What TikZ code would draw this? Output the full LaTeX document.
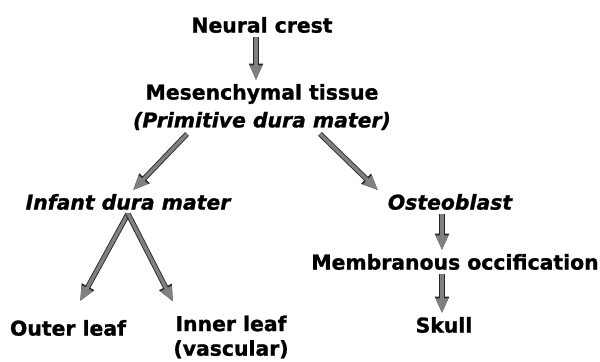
\documentclass[tikz,border=0pt]{standalone}
\usepackage{fontspec}
\setmainfont[BoldFeatures={FakeBold=1.2}, BoldItalicFeatures={FakeBold=1.2}]{DejaVu Sans}
\usetikzlibrary{arrows.meta}

\begin{document}
\begin{tikzpicture}[x=0.02cm, y=-0.02cm,
    lab/.style={font=\fontsize{11.6}{14}\selectfont\bfseries, inner sep=2pt, align=center},
    ital/.style={lab, font=\fontsize{11.6}{14}\selectfont\bfseries\itshape},
    arr/.style={-{Triangle[length=8.5pt, width=6.5pt]}, line width=2pt, black!50,
                preaction={draw=black!85, line width=3pt, -{Triangle[length=9.5pt, width=7.5pt]}}}]
    \useasboundingbox (0,0) rectangle (600,362);
    \node[lab] (crest) at (262,25) {Neural crest};
    \node[lab] (mesen) at (262,94) {Mesenchymal tissue};
    \node[ital] (prim) at (262,121) {(Primitive dura mater)};
    \node[ital] (infant) at (128,202) {Infant dura mater};
    \node[ital] (osteo) at (450,202) {Osteoblast};
    \node[lab] (memb) at (455,262) {Membranous occification};
    \node[lab] (skull) at (444,325) {Skull};
    \node[lab] (outer) at (68,328) {Outer leaf};
    \node[lab] (inner) at (231,337) {Inner leaf\\(vascular)};
    \draw[arr] ([xshift=-0.12cm]crest.south) -- ([xshift=-0.12cm]crest.south |- mesen.north);
    \draw[arr] ([xshift=-1.5cm]prim.south) -- ([xshift=0.1cm]infant.north);
    \draw[arr] ([xshift=1.16cm]prim.south) -- ([xshift=-1.44cm]osteo.north);
    \draw[arr] (infant.south) -- ([xshift=0.24cm, yshift=0.3cm]outer.north);
    \draw[arr] (infant.south) -- ([xshift=-1.16cm, yshift=0.2cm]inner.north);
    \draw[arr] ([xshift=-0.16cm]osteo.south) -- ([xshift=-0.16cm]osteo.south |- memb.north);
    \draw[arr] ([xshift=-0.16cm]osteo.south |- memb.south) -- ([xshift=-0.16cm]osteo.south |- skull.north);
\end{tikzpicture}
\end{document}
